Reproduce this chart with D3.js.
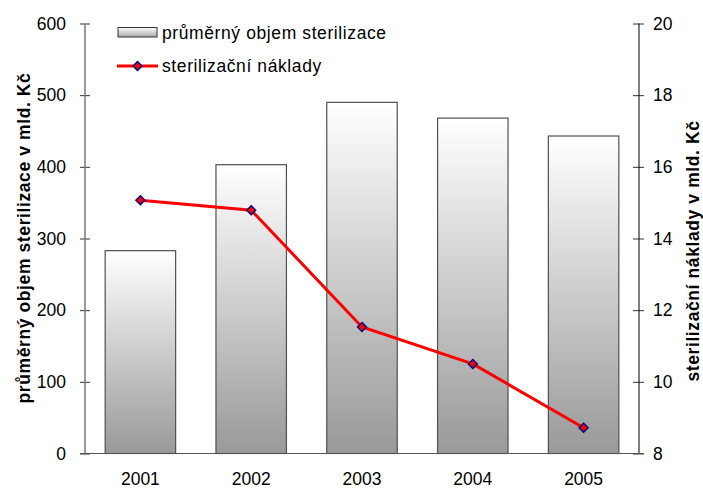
<!DOCTYPE html>
<html>
<head>
<meta charset="utf-8">
<script src="https://cdn.jsdelivr.net/npm/d3@7"></script>
<style>
  body { margin: 0; background: #fff; }
  text { font-family: "Liberation Sans", Arial, sans-serif; fill: #000; }
</style>
</head>
<body>
<div id="chart"></div>
<script>
const years = ["2001", "2002", "2003", "2004", "2005"];
const volume = [283, 403, 490, 468, 443];       // průměrný objem sterilizace
const costs = [15.07, 14.79, 11.53, 10.50, 8.72]; // sterilizační náklady
const leftTicks = [0, 100, 200, 300, 400, 500, 600];
const rightTicks = [8, 10, 12, 14, 16, 18, 20];

const width = 703, height = 489;
const plotLeft = 85, plotRight = 639, plotTop = 23.5, plotBottom = 453.5;
const fontSize = 17.5;

const svg = d3.select("#chart").append("svg")
    .attr("width", width)
    .attr("height", height);

const defs = svg.append("defs");
const grad = defs.append("linearGradient").attr("id", "barGrad")
    .attr("x1", 0).attr("y1", 0).attr("x2", 0).attr("y2", 1);
grad.append("stop").attr("offset", "0%").attr("stop-color", "#ffffff");
grad.append("stop").attr("offset", "100%").attr("stop-color", "#999999");

const legGrad = defs.append("linearGradient").attr("id", "legGrad")
    .attr("x1", 0).attr("y1", 0).attr("x2", 0).attr("y2", 1);
legGrad.append("stop").attr("offset", "0%").attr("stop-color", "#ffffff");
legGrad.append("stop").attr("offset", "100%").attr("stop-color", "#a8a8a8");

const x = d3.scaleBand().domain(years).range([plotLeft, plotRight]).paddingInner(0.364).paddingOuter(0.182);
const yL = d3.scaleLinear().domain([0, 600]).range([plotBottom, plotTop]);
const yR = d3.scaleLinear().domain([8, 20]).range([plotBottom, plotTop]);

// bars
svg.append("g").selectAll("rect").data(years).join("rect")
    .attr("x", d => x(d))
    .attr("y", (d, i) => yL(volume[i]))
    .attr("width", x.bandwidth())
    .attr("height", (d, i) => plotBottom - yL(volume[i]))
    .attr("fill", "url(#barGrad)")
    .attr("stroke", "#505050")
    .attr("stroke-width", 1.2);

// left axis
const axL = svg.append("g").attr("transform", `translate(${plotLeft},0)`)
    .call(d3.axisLeft(yL).tickValues(leftTicks).tickSize(5).tickPadding(14));
axL.select(".domain").remove();
axL.selectAll(".tick line").attr("x2", 5).attr("x1", -5).attr("stroke", "#333");
axL.selectAll("text").attr("font-size", fontSize).attr("font-family", "Liberation Sans, Arial, sans-serif");
svg.append("line").attr("x1", plotLeft).attr("x2", plotLeft).attr("y1", plotTop).attr("y2", plotBottom)
    .attr("stroke", "#777").attr("stroke-width", 1.5);

// right axis
const axR = svg.append("g").attr("transform", `translate(${plotRight},0)`)
    .call(d3.axisRight(yR).tickValues(rightTicks).tickSize(5).tickPadding(9));
axR.select(".domain").remove();
axR.selectAll(".tick line").attr("x1", -6).attr("x2", 5).attr("stroke", "#333");
axR.selectAll("text").attr("font-size", fontSize).attr("font-family", "Liberation Sans, Arial, sans-serif");
svg.append("line").attr("x1", plotRight).attr("x2", plotRight).attr("y1", plotTop).attr("y2", plotBottom)
    .attr("stroke", "#000").attr("stroke-width", 1);

// bottom axis
svg.append("line").attr("x1", plotLeft - 5).attr("x2", plotRight + 5).attr("y1", plotBottom).attr("y2", plotBottom)
    .attr("stroke", "#555").attr("stroke-width", 1.2);
svg.append("g").selectAll("text").data(years).join("text")
    .attr("x", d => x(d) + x.bandwidth() / 2)
    .attr("y", 485)
    .attr("text-anchor", "middle")
    .attr("font-size", fontSize)
    .text(d => d);

// line series
const line = d3.line()
    .x((d, i) => x(years[i]) + x.bandwidth() / 2)
    .y(d => yR(d));
svg.append("path").datum(costs)
    .attr("d", line)
    .attr("fill", "none")
    .attr("stroke", "#ff0000")
    .attr("stroke-width", 3);

const diamond = d3.symbol().type(d3.symbolDiamond2).size(50);
svg.append("g").selectAll("path").data(costs).join("path")
    .attr("d", diamond)
    .attr("transform", (d, i) => `translate(${x(years[i]) + x.bandwidth() / 2},${yR(d)})`)
    .attr("fill", "#ff0000")
    .attr("stroke", "#000080")
    .attr("stroke-width", 1.5);

// axis titles (both read bottom to top)
svg.append("text")
    .attr("transform", `translate(30,238) rotate(-90)`)
    .attr("text-anchor", "middle")
    .attr("font-size", 17.5)
    .attr("font-weight", "bold")
    .attr("letter-spacing", 0.6)
    .text("průměrný objem sterilizace v mld. Kč");
svg.append("text")
    .attr("transform", `translate(699,251) rotate(-90)`)
    .attr("text-anchor", "middle")
    .attr("font-size", 17.5)
    .attr("font-weight", "bold")
    .attr("letter-spacing", 0.6)
    .text("sterilizační náklady v mld. Kč");

// legend
const leg = svg.append("g");
leg.append("rect").attr("x", 118).attr("y", 27.5).attr("width", 39).attr("height", 9.5)
    .attr("fill", "url(#legGrad)").attr("stroke", "#333").attr("stroke-width", 1);
leg.append("text").attr("x", 162).attr("y", 38.5).attr("font-size", fontSize)
    .attr("letter-spacing", 0.6).text("průměrný objem sterilizace");
leg.append("line").attr("x1", 117).attr("x2", 158).attr("y1", 66).attr("y2", 66)
    .attr("stroke", "#ff0000").attr("stroke-width", 3);
leg.append("path").attr("d", diamond).attr("transform", "translate(137.5,66)")
    .attr("fill", "#ff0000").attr("stroke", "#000080").attr("stroke-width", 1.5);
leg.append("text").attr("x", 162).attr("y", 72).attr("font-size", fontSize)
    .attr("letter-spacing", 0.6).text("sterilizační náklady");
</script>
</body>
</html>
